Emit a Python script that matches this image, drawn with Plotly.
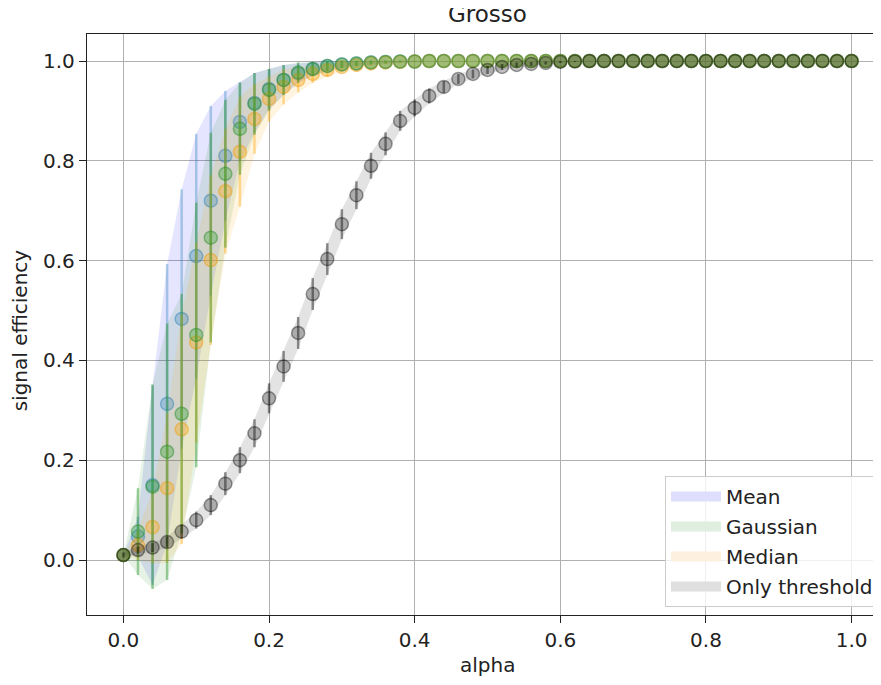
import plotly.graph_objects as go

# alpha values (x categories)
alpha = [0.0, 0.02, 0.04, 0.06, 0.08, 0.1, 0.12, 0.14, 0.16, 0.18,
         0.2, 0.22, 0.24, 0.26, 0.28, 0.3, 0.32, 0.34, 0.36, 0.38,
         0.4, 0.42, 0.44, 0.46, 0.48, 0.5, 0.52, 0.54, 0.56, 0.58,
         0.6, 0.62, 0.64, 0.66, 0.68, 0.7, 0.72, 0.74, 0.76, 0.78,
         0.8, 0.82, 0.84, 0.86, 0.88, 0.9, 0.92, 0.94, 0.96, 0.98, 1.0]

mean_eff = [0.01, 0.047, 0.15, 0.313, 0.483, 0.609, 0.72, 0.81, 0.878, 0.916,
            0.944, 0.962, 0.975, 0.984, 0.99, 0.993, 0.995, 0.997, 0.998, 0.999,
            0.999, 1.0, 1.0, 1.0, 1.0, 1.0, 1.0, 1.0, 1.0, 1.0,
            1.0, 1.0, 1.0, 1.0, 1.0, 1.0, 1.0, 1.0, 1.0, 1.0,
            1.0, 1.0, 1.0, 1.0, 1.0, 1.0, 1.0, 1.0, 1.0, 1.0, 1.0]
mean_err = [0.0, 0.04, 0.2, 0.28, 0.26, 0.245, 0.19, 0.13, 0.08, 0.06,
            0.04, 0.03, 0.02, 0.014, 0.01, 0.007, 0.005, 0.004, 0.003, 0.002,
            0.001, 0.0, 0.0, 0.0, 0.0, 0.0, 0.0, 0.0, 0.0, 0.0,
            0.0, 0.0, 0.0, 0.0, 0.0, 0.0, 0.0, 0.0, 0.0, 0.0,
            0.0, 0.0, 0.0, 0.0, 0.0, 0.0, 0.0, 0.0, 0.0, 0.0, 0.0]

gauss_eff = [0.01, 0.057, 0.147, 0.217, 0.293, 0.451, 0.646, 0.774, 0.864, 0.914,
             0.942, 0.962, 0.977, 0.984, 0.99, 0.993, 0.995, 0.997, 0.998, 0.999,
             0.999, 1.0, 1.0, 1.0, 1.0, 1.0, 1.0, 1.0, 1.0, 1.0,
             1.0, 1.0, 1.0, 1.0, 1.0, 1.0, 1.0, 1.0, 1.0, 1.0,
             1.0, 1.0, 1.0, 1.0, 1.0, 1.0, 1.0, 1.0, 1.0, 1.0, 1.0]
gauss_err = [0.0, 0.087, 0.205, 0.257, 0.24, 0.265, 0.21, 0.148, 0.092, 0.062,
             0.042, 0.03, 0.02, 0.014, 0.01, 0.007, 0.005, 0.004, 0.003, 0.002,
             0.001, 0.0, 0.0, 0.0, 0.0, 0.0, 0.0, 0.0, 0.0, 0.0,
             0.0, 0.0, 0.0, 0.0, 0.0, 0.0, 0.0, 0.0, 0.0, 0.0,
             0.0, 0.0, 0.0, 0.0, 0.0, 0.0, 0.0, 0.0, 0.0, 0.0, 0.0]

median_eff = [0.01, 0.03, 0.066, 0.144, 0.262, 0.436, 0.601, 0.739, 0.818, 0.884,
              0.924, 0.948, 0.962, 0.974, 0.982, 0.988, 0.992, 0.995, 0.997, 0.998,
              0.999, 1.0, 1.0, 1.0, 1.0, 1.0, 1.0, 1.0, 1.0, 1.0,
              1.0, 1.0, 1.0, 1.0, 1.0, 1.0, 1.0, 1.0, 1.0, 1.0,
              1.0, 1.0, 1.0, 1.0, 1.0, 1.0, 1.0, 1.0, 1.0, 1.0, 1.0]
median_err = [0.0, 0.03, 0.073, 0.15, 0.23, 0.2, 0.17, 0.125, 0.11, 0.07,
              0.045, 0.035, 0.025, 0.018, 0.013, 0.009, 0.006, 0.004, 0.003, 0.002,
              0.001, 0.0, 0.0, 0.0, 0.0, 0.0, 0.0, 0.0, 0.0, 0.0,
              0.0, 0.0, 0.0, 0.0, 0.0, 0.0, 0.0, 0.0, 0.0, 0.0,
              0.0, 0.0, 0.0, 0.0, 0.0, 0.0, 0.0, 0.0, 0.0, 0.0, 0.0]

thresh_eff = [0.01, 0.02, 0.025, 0.036, 0.057, 0.08, 0.11, 0.153, 0.2, 0.254,
              0.324, 0.388, 0.455, 0.533, 0.603, 0.673, 0.731, 0.79, 0.834, 0.88,
              0.906, 0.93, 0.948, 0.964, 0.974, 0.982, 0.988, 0.992, 0.994, 0.996,
              0.998, 0.999, 1.0, 1.0, 1.0, 1.0, 1.0, 1.0, 1.0, 1.0,
              1.0, 1.0, 1.0, 1.0, 1.0, 1.0, 1.0, 1.0, 1.0, 1.0, 1.0]
thresh_err = [0.005, 0.007, 0.009, 0.011, 0.014, 0.017, 0.02, 0.023, 0.026, 0.028,
              0.03, 0.031, 0.032, 0.032, 0.032, 0.03, 0.028, 0.026, 0.023, 0.02,
              0.017, 0.015, 0.012, 0.01, 0.009, 0.008, 0.006, 0.005, 0.004, 0.003,
              0.002, 0.001, 0.0, 0.0, 0.0, 0.0, 0.0, 0.0, 0.0, 0.0,
              0.0, 0.0, 0.0, 0.0, 0.0, 0.0, 0.0, 0.0, 0.0, 0.0, 0.0]

series_names = ["Mean", "Gaussian", "Median", "Only threshold"]
series_vals = [mean_eff, gauss_eff, median_eff, thresh_eff]
series_errs = [mean_err, gauss_err, median_err, thresh_err]

# styles: band fill, marker fill, marker edge, error bar color, legend patch
styles = {
    "Mean": dict(band="rgba(0,0,255,0.10)", mk="rgba(31,119,180,0.26)", edge="rgba(31,119,180,0.42)",
                 err="rgba(31,119,180,0.33)", leg="rgb(222,223,252)"),
    "Gaussian": dict(band="rgba(0,128,0,0.10)", mk="rgba(44,160,44,0.33)", edge="rgba(44,140,44,0.48)",
                     err="rgba(44,150,44,0.45)", leg="rgb(224,238,224)"),
    "Median": dict(band="rgba(255,165,0,0.12)", mk="rgba(255,170,20,0.38)", edge="rgba(240,160,20,0.5)",
                   err="rgba(255,175,30,0.45)", leg="rgb(253,240,222)"),
    "Only threshold": dict(band="rgba(0,0,0,0.11)", mk="rgba(0,0,0,0.24)", edge="rgba(0,0,0,0.38)",
                           err="rgba(0,0,0,0.42)", leg="rgb(223,223,223)"),
}

fig = go.Figure()
# shaded bands (drawn beneath all markers)
for name, vals, errs in zip(series_names, series_vals, series_errs):
    st = styles[name]
    upper = [v + e for v, e in zip(vals, errs)]
    lower = [v - e for v, e in zip(vals, errs)]
    fig.add_trace(go.Scatter(
        x=alpha + alpha[::-1], y=upper + lower[::-1], mode="lines",
        fill="toself", fillcolor=st["band"], line=dict(width=0),
        hoverinfo="skip", showlegend=False))

# markers with error bars
marker_order = ["Mean", "Median", "Gaussian", "Only threshold"]
for name in marker_order:
    i = series_names.index(name)
    st = styles[name]
    fig.add_trace(go.Scatter(
        x=alpha, y=series_vals[i], mode="markers", name=name, showlegend=False,
        marker=dict(size=13, color=st["mk"], line=dict(color=st["edge"], width=1.5)),
        error_y=dict(type="data", array=series_errs[i], visible=True, color=st["err"],
                     thickness=2.5, width=0)))

# legend patches
for name in series_names:
    st = styles[name]
    fig.add_trace(go.Scatter(
        x=[None], y=[None], mode="lines", name=name, legendgroup=name,
        line=dict(color=st["leg"], width=12)))

font_family = "DejaVu Sans"
fs = 20
fig.update_layout(
    width=881, height=685,
    margin=dict(l=79, r=1, t=26, b=78),
    paper_bgcolor="white", plot_bgcolor="white",
    font=dict(family=font_family, size=fs, color="#222222"),
    showlegend=True,
    legend=dict(x=0.9888, y=0.0138, xanchor="right", yanchor="bottom",
                bgcolor="rgba(255,255,255,0.8)", bordercolor="#cccccc", borderwidth=1,
                font=dict(family=font_family, size=fs, color="#222222"),
                itemwidth=50, tracegroupgap=1),
    xaxis=dict(range=[-0.05, 1.05], tickvals=[0.0, 0.2, 0.4, 0.6, 0.8, 1.0],
               ticktext=["0.0", "0.2", "0.4", "0.6", "0.8", "1.0"],
               tickfont=dict(size=fs),
               showgrid=True, gridcolor="#b0b0b0", gridwidth=1.3,
               showline=True, linecolor="#222222", linewidth=1.3, mirror=True,
               ticks="outside", ticklen=7, tickcolor="#222222", zeroline=False),
    yaxis=dict(range=[-0.1102, 1.0541], tickvals=[0.0, 0.2, 0.4, 0.6, 0.8, 1.0],
               ticktext=["0.0", "0.2", "0.4", "0.6", "0.8", "1.0"],
               tickfont=dict(size=fs),
               showgrid=True, gridcolor="#b0b0b0", gridwidth=1.3,
               showline=True, linecolor="#222222", linewidth=1.3, mirror=True,
               ticks="outside", ticklen=7, tickcolor="#222222", zeroline=False),
    annotations=[
        dict(text="Grosso", xref="paper", yref="paper", x=0.5, y=1.008,
             xanchor="center", yanchor="bottom", showarrow=False,
             font=dict(family=font_family, size=23, color="#222222")),
        dict(text="alpha", xref="paper", yref="paper", x=0.5, y=-0.086,
             xanchor="center", yanchor="middle", showarrow=False,
             font=dict(family=font_family, size=fs, color="#222222")),
        dict(text="signal efficiency", xref="paper", yref="paper", x=-0.0836, y=0.49,
             xanchor="center", yanchor="middle", textangle=-90, showarrow=False,
             font=dict(family=font_family, size=fs, color="#222222")),
    ],
)

fig.write_html("out.html")
